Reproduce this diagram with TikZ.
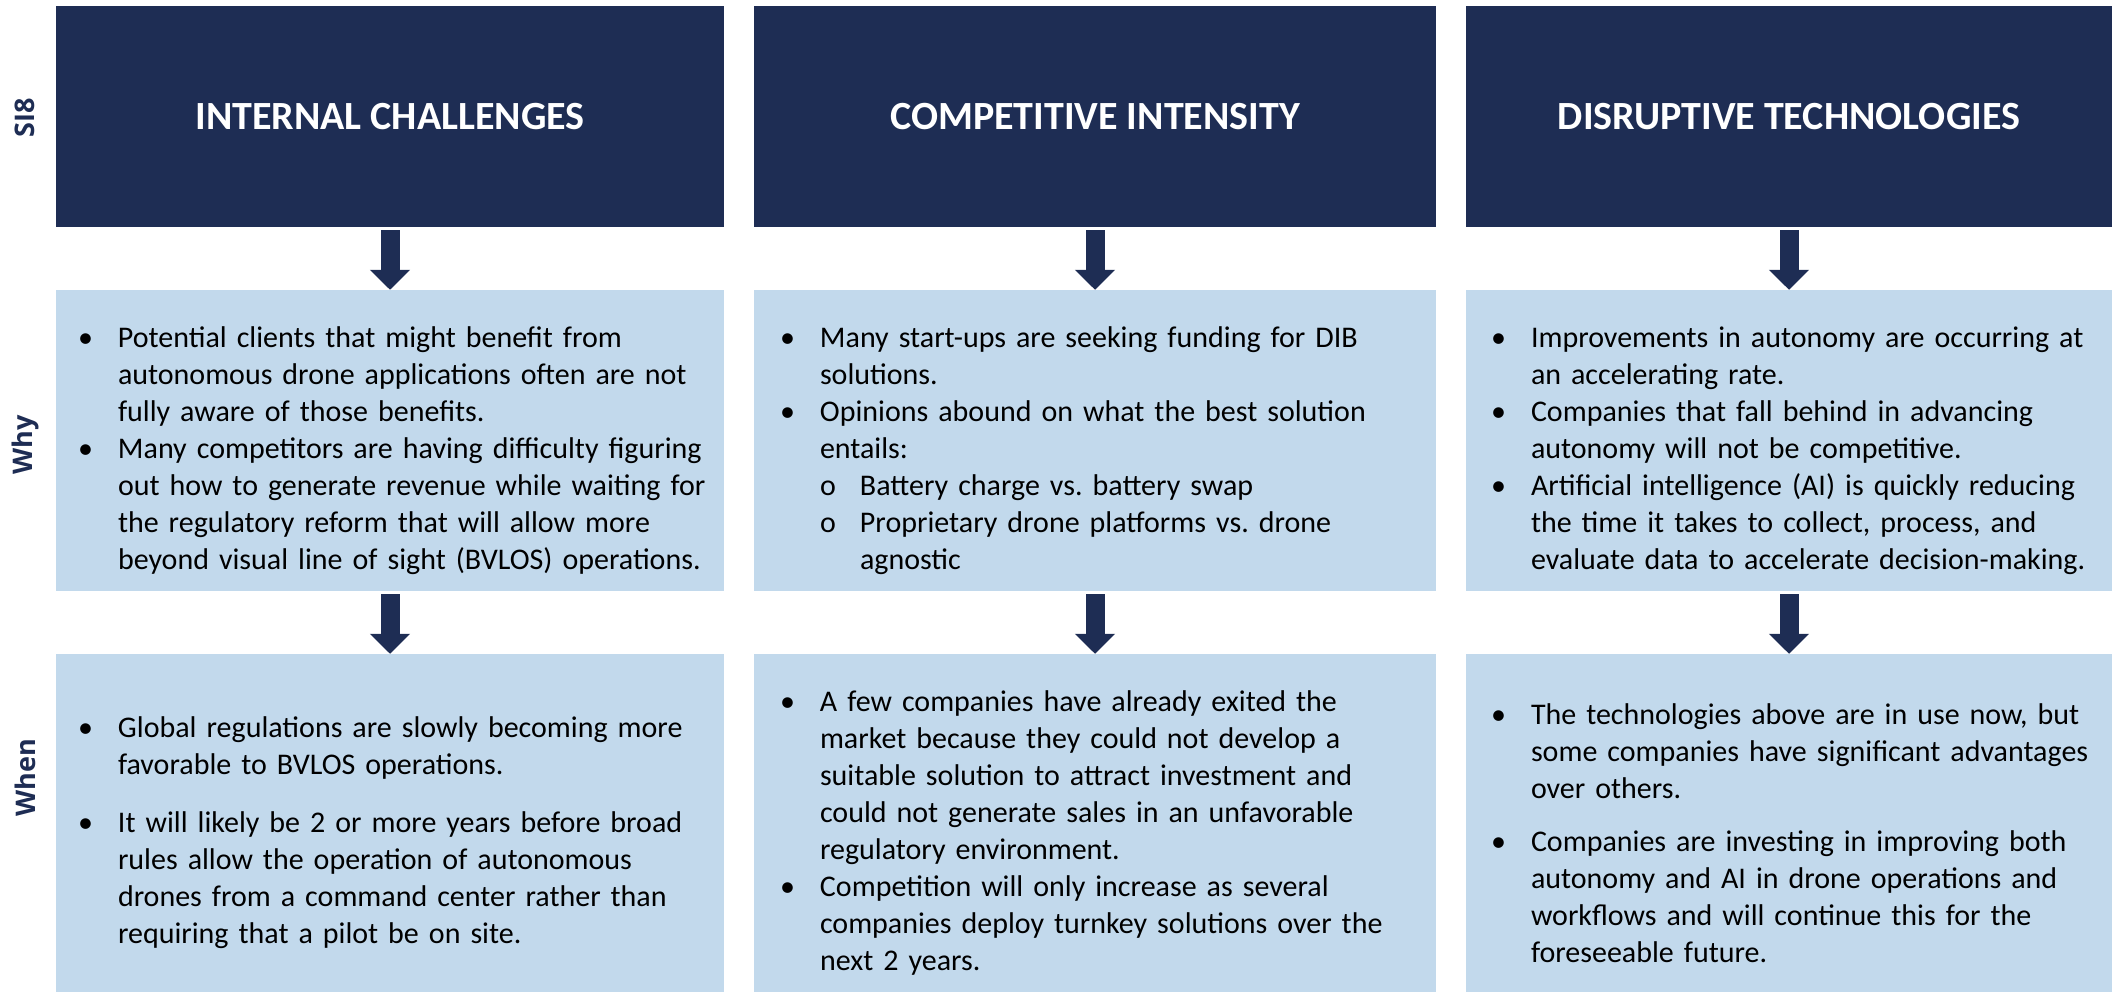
\documentclass[tikz,border=0pt]{standalone}
\usepackage{fontspec}
\setmainfont{Carlito}
\newfontfamily\sidefont{Open Sans}
\usetikzlibrary{arrows.meta}
\definecolor{navy}{RGB}{30,45,84}
\definecolor{paleblue}{RGB}{194,217,236}
\newcommand{\bul}{\par\hangindent=40pt\hangafter=1\noindent\makebox[40pt][l]{\textbullet}}
\newcommand{\subbul}{\par\hangindent=80pt\hangafter=1\noindent\hspace*{40pt}\makebox[40pt][l]{o}}
\newcommand{\nl}{\hfil\break}
\tikzset{
	headbox/.style={fill=navy, text=white, inner sep=0pt, minimum height=221pt, font=\fontsize{40}{48}\selectfont\bfseries},
	infobox/.style={fill=paleblue, inner sep=0pt},
	bodytext/.style={anchor=west, text width=680pt, inner sep=0pt, font=\fontsize{30}{37}\selectfont\frenchspacing},
	sidelabel/.style={rotate=90, text=navy, font=\sidefont\bfseries\fontsize{27}{32}\selectfont},
	flowarrow/.style={draw=navy, line width=19pt, -{Triangle[width=39pt,length=20pt]}, shorten <=3pt}
}

\begin{document}
\begin{tikzpicture}[x=1pt,y=-1pt]

					\useasboundingbox (0,0) rectangle (2112,992);

					\node[sidelabel] (lblsi) at (25,118) {SI8};
					\node[sidelabel] (lblwhy) at (25,445) {Why};
					\node[sidelabel] (lblwhen) at (25,778) {When};

					\node[headbox, minimum width=668pt] (hd1) at (390,116.5) {INTERNAL CHALLENGES};
					\node[headbox, minimum width=682pt] (hd2) at (1095,116.5) {COMPETITIVE INTENSITY};
					\node[headbox, minimum width=646pt] (hd3) at (1789,116.5) {DISRUPTIVE TECHNOLOGIES};

					\node[infobox, minimum width=668pt, minimum height=301pt] (why1) at (390,440.5) {};
					\node[infobox, minimum width=682pt, minimum height=301pt] (why2) at (1095,440.5) {};
					\node[infobox, minimum width=646pt, minimum height=301pt] (why3) at (1789,440.5) {};

					\node[infobox, minimum width=668pt, minimum height=338pt] (when1) at (390,823) {};
					\node[infobox, minimum width=682pt, minimum height=338pt] (when2) at (1095,823) {};
					\node[infobox, minimum width=646pt, minimum height=338pt] (when3) at (1789,823) {};

					\draw[flowarrow] (hd1) -- (why1);
					\draw[flowarrow] (hd2) -- (why2);
					\draw[flowarrow] (hd3) -- (why3);
					\draw[flowarrow] (why1) -- (when1);
					\draw[flowarrow] (why2) -- (when2);
					\draw[flowarrow] (why3) -- (when3);

					\node[bodytext] (why1txt) at ([xshift=22pt,yshift=-2pt]why1.west) {
						\bul Potential clients that might benefit from\nl autonomous drone applications often are not\nl fully aware of those benefits.
						\bul Many competitors are having difficulty figuring\nl out how to generate revenue while waiting for\nl the regulatory reform that will allow more\nl beyond visual line of sight (BVLOS) operations.\par
					};

					\node[bodytext] (why2txt) at ([xshift=26pt,yshift=-2pt]why2.west) {
						\bul Many start-ups are seeking funding for DIB\nl solutions.
						\bul Opinions abound on what the best solution\nl entails:
						\subbul Battery charge vs. battery swap
						\subbul Proprietary drone platforms vs. drone\nl agnostic\par
					};

					\node[bodytext] (why3txt) at ([xshift=25pt,yshift=-2pt]why3.west) {
						\bul Improvements in autonomy are occurring at\nl an accelerating rate.
						\bul Companies that fall behind in advancing\nl autonomy will not be competitive.
						\bul Artificial intelligence (AI) is quickly reducing\nl the time it takes to collect, process, and\nl evaluate data to accelerate decision-making.\par
					};

					\node[bodytext] (when1txt) at ([xshift=22pt,yshift=-2pt]when1.west) {
						\bul Global regulations are slowly becoming more\nl favorable to BVLOS operations.\par\vspace{21pt}
						\bul It will likely be 2 or more years before broad\nl rules allow the operation of autonomous\nl drones from a command center rather than\nl requiring that a pilot be on site.\par
					};

					\node[bodytext] (when2txt) at ([xshift=26pt,yshift=-2pt]when2.west) {
						\bul A few companies have already exited the\nl market because they could not develop a\nl suitable solution to attract investment and\nl could not generate sales in an unfavorable\nl regulatory environment.
						\bul Competition will only increase as several\nl companies deploy turnkey solutions over the\nl next 2 years.\par
					};

					\node[bodytext] (when3txt) at ([xshift=25pt,yshift=-2pt]when3.west) {
						\bul The technologies above are in use now, but\nl some companies have significant advantages\nl over others.\par\vspace{16pt}
						\bul Companies are investing in improving both\nl autonomy and AI in drone operations and\nl workflows and will continue this for the\nl foreseeable future.\par
					};

				\end{tikzpicture}
\end{document}
